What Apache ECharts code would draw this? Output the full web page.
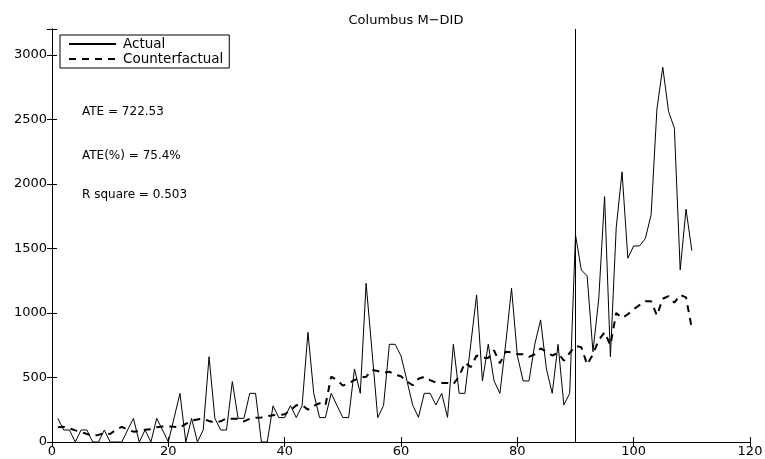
<!DOCTYPE html>
<html>
<head>
<meta charset="utf-8">
<title>Columbus M-DID</title>
<script src="https://cdn.jsdelivr.net/npm/echarts@6/dist/echarts.min.js"></script>
<style>
  html, body { margin: 0; padding: 0; background: #fff; }
  #chart { width: 765px; height: 459px; }
</style>
</head>
<body>
<div id="chart"></div>
<script>
// period index (x values)
const periods = [
  1, 2, 3, 4, 5, 6, 7, 8, 9, 10, 11, 12, 13, 14, 15, 16, 17, 18, 19, 20,
  21, 22, 23, 24, 25, 26, 27, 28, 29, 30, 31, 32, 33, 34, 35, 36, 37, 38, 39, 40,
  41, 42, 43, 44, 45, 46, 47, 48, 49, 50, 51, 52, 53, 54, 55, 56, 57, 58, 59, 60,
  61, 62, 63, 64, 65, 66, 67, 68, 69, 70, 71, 72, 73, 74, 75, 76, 77, 78, 79, 80,
  81, 82, 83, 84, 85, 86, 87, 88, 89, 90, 91, 92, 93, 94, 95, 96, 97, 98, 99, 100,
  101, 102, 103, 104, 105, 106, 107, 108, 109, 110
];

// observed values
const actual = [
  183, 93, 93, 0, 93, 93, 0, 0, 93, 0, 0, 0, 93, 183, 0, 93, 0, 183, 93, 0,
  188, 377, 0, 183, 0, 93, 661, 183, 93, 93, 468, 183, 183, 377, 377, 0, 0, 280, 189, 189,
  282, 189, 282, 850, 377, 189, 189, 377, 282, 189, 189, 566, 377, 1230, 713, 189, 282, 757, 757, 667,
  480, 287, 191, 377, 377, 287, 377, 191, 757, 377, 377, 760, 1140, 473, 757, 473, 377, 760, 1191, 670,
  473, 473, 757, 946, 566, 377, 757, 287, 377, 1605, 1333, 1287, 700, 1110, 1902, 661, 1660, 2093, 1424, 1519,
  1519, 1576, 1760, 2580, 2904, 2561, 2431, 1333, 1804, 1483
];

// estimated counterfactual
const counterfactual = [
  115, 118, 105, 90, 78, 62, 50, 55, 70, 62, 95, 118, 95, 80, 85, 95, 98, 115, 120, 120,
  118, 112, 140, 165, 175, 180, 163, 150, 160, 183, 180, 180, 160, 180, 188, 190, 200, 208, 210, 215,
  245, 285, 287, 250, 280, 300, 282, 506, 480, 437, 455, 480, 500, 505, 558, 550, 537, 545, 520, 510,
  470, 440, 490, 505, 480, 460, 458, 458, 447, 510, 615, 580, 670, 655, 650, 710, 610, 700, 695, 680,
  680, 660, 680, 725, 700, 670, 690, 630, 690, 745, 735, 600, 680, 790, 850, 750, 1000, 960, 990, 1030,
  1060, 1090, 1090, 980, 1110, 1130, 1080, 1140, 1120, 880
];

const interventionPeriod = 90;
const xTicks = { min: 0, max: 120, interval: 20 };
const yTicks = { min: 0, max: 3200, interval: 500, lastLabel: 3000 };

const notes = ['ATE = 722.53', 'ATE(%) = 75.4%', 'R square = 0.503'];

const FONT = 'DejaVu Sans';

function pairs(xs, ys) {
  return xs.map((x, i) => [x, ys[i]]);
}

const chart = echarts.init(document.getElementById('chart'));

const tickStyle = { inside: true, length: 5, lineStyle: { color: '#000', width: 1 } };
const lineStyle = { lineStyle: { color: '#000', width: 1 } };

const option = {
  animation: false,
  backgroundColor: '#fff',
  title: {
    text: 'Columbus M\u2212DID',
    left: 401,
    top: 9,
    textAlign: 'center',
    textStyle: { fontFamily: FONT, fontSize: 13, fontWeight: 'normal', color: '#000' }
  },
  grid: { left: 52, right: 15, top: 29, bottom: 17, containLabel: false, outerBoundsMode: 'none' },
  legend: {
    left: 60,
    top: 35,
    orient: 'vertical',
    padding: [2, 6, 2, 8],
    itemGap: 1,
    itemWidth: 47,
    itemHeight: 12,
    borderColor: '#000',
    borderWidth: 1,
    borderRadius: 0,
    backgroundColor: '#fff',
    // line only, no marker in the legend
    itemStyle: { opacity: 0 },
    textStyle: { fontFamily: FONT, fontSize: 13.5, color: '#000', lineHeight: 14, padding: [0, 0, 0, 2] },
    data: ['Actual', 'Counterfactual']
  },
  xAxis: [
    {
      type: 'value', min: xTicks.min, max: xTicks.max, interval: xTicks.interval,
      axisLine: lineStyle, axisTick: tickStyle, splitLine: { show: false },
      axisLabel: { fontFamily: FONT, fontSize: 13, color: '#000', margin: 3 }
    },
    {
      type: 'value', position: 'top', min: xTicks.min, max: xTicks.max, interval: xTicks.interval,
      axisLine: lineStyle, axisTick: tickStyle, splitLine: { show: false },
      axisLabel: { show: false }
    }
  ],
  yAxis: [
    {
      type: 'value', min: yTicks.min, max: yTicks.max, interval: yTicks.interval,
      axisLine: lineStyle, axisTick: tickStyle, splitLine: { show: false },
      axisLabel: {
        fontFamily: FONT, fontSize: 13, color: '#000', margin: 5,
        formatter: v => (v > yTicks.lastLabel ? '' : String(v))
      }
    },
    {
      type: 'value', position: 'right', min: yTicks.min, max: yTicks.max, interval: yTicks.interval,
      axisLine: lineStyle, axisTick: tickStyle, splitLine: { show: false },
      axisLabel: { show: false }
    }
  ],
  series: [
    {
      name: 'Actual',
      type: 'line',
      symbol: 'none',
      data: pairs(periods, actual),
      lineStyle: { color: '#000', width: 1 },
      itemStyle: { color: '#000' },
      markLine: {
        silent: true,
        symbol: 'none',
        label: { show: false },
        lineStyle: { color: '#000', width: 1, type: 'solid' },
        data: [{ xAxis: interventionPeriod }]
      },
      z: 3
    },
    {
      name: 'Counterfactual',
      type: 'line',
      symbol: 'none',
      data: pairs(periods, counterfactual),
      lineStyle: { color: '#000', width: 2, type: [7, 6] },
      itemStyle: { color: '#000' },
      z: 2
    }
  ],
  graphic: notes.map((t, i) => ({
    type: 'text',
    x: 82,
    y: [112, 156, 195][i],
    style: { text: t, fill: '#000', font: '12px "DejaVu Sans"', verticalAlign: 'middle' }
  }))
};

chart.setOption(option);
</script>
</body>
</html>
